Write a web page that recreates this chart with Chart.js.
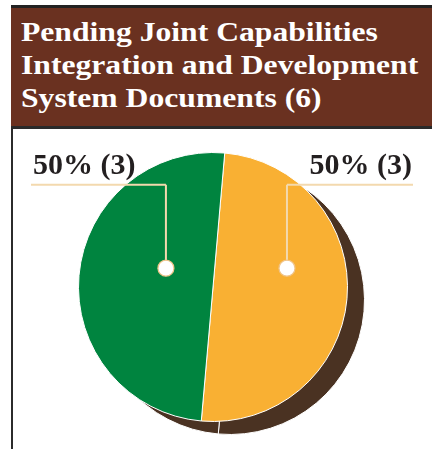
<!DOCTYPE html>
<html lang="en">
<head>
<meta charset="UTF-8">
<title>Pending JCIDS Documents</title>
<script src="https://cdn.jsdelivr.net/npm/chart.js"></script>
<style>
    html, body {
        margin: 0;
        padding: 0;
        background: #fff;
        width: 432px;
        height: 449px;
        overflow: hidden;
    }
    .frame {
        position: absolute;
        left: 11px;
        top: 5px;
        width: 2px;
        height: 444px;
        background: #2b2b2b;
    }
    .header {
        position: absolute;
        left: 11px;
        top: 5px;
        width: 411px;
        height: 111px;
        padding: 7px 0 0 10px;
        background: #6a3120;
        border-top: 3px solid #222;
        border-bottom: 3px solid #2a2a2a;
        color: #fff;
        font-family: "Liberation Serif", "Times New Roman", serif;
        font-weight: bold;
        font-size: 28px;
        line-height: 33px;
        box-sizing: content-box;
        z-index: 2;
        white-space: nowrap;
    }
    .header span {
        display: inline-block;
        transform: scaleX(1.13);
        transform-origin: left center;
    }
    #chart {
        position: absolute;
        left: 0;
        top: 0;
    }
</style>
</head>
<body>
<div class="frame"></div>
<div class="header"><span>Pending Joint Capabilities<br>Integration and Development<br>System Documents (6)</span></div>
<canvas id="chart" width="432" height="449"></canvas>

<script>
    // document counts per group
    const labels = ['Group A', 'Group B'];
    const counts = [3, 3];
    const colors = ['#f9b033', '#00843f'];

    const total = counts.reduce((a, b) => a + b, 0);
    const labelText = counts.map(c => `${Math.round(c / total * 100)}% (${c})`);

    // dark offset copy of the pie, drawn underneath
    const shadowPlugin = {
        id: 'pieShadow',
        beforeDatasetsDraw(chart) {
            const ctx = chart.ctx;
            const arcs = chart.getDatasetMeta(0).data;
            ctx.save();
            ctx.translate(17, 13);
            arcs.forEach(arc => {
                ctx.beginPath();
                ctx.moveTo(arc.x, arc.y);
                ctx.arc(arc.x, arc.y, arc.outerRadius, arc.startAngle, arc.endAngle);
                ctx.closePath();
                ctx.fillStyle = '#4a3222';
                ctx.fill();
                ctx.lineWidth = 1;
                ctx.strokeStyle = '#fff';
                ctx.stroke();
            });
            ctx.restore();
        }
    };

    // callout labels with leader lines and dots
    const calloutPlugin = {
        id: 'callouts',
        afterDatasetsDraw(chart) {
            const ctx = chart.ctx;
            const arc = chart.getDatasetMeta(0).data[0];
            const cx = arc.x, cy = arc.y, r = arc.outerRadius;
            const lineY = cy - r * 0.76;
            const dotY = cy - r * 0.14;
            const sides = [
                { dotX: cx + r * 0.55, from: cx + r * 0.55, to: 413, text: labelText[0], align: 'right', tx: 412 },
                { dotX: cx - r * 0.35, from: 31, to: cx - r * 0.35, text: labelText[1], align: 'left', tx: 33 }
            ];
            ctx.save();
            sides.forEach(s => {
                ctx.strokeStyle = '#f3d9ae';
                ctx.lineWidth = 2;
                ctx.beginPath();
                ctx.moveTo(s.from, lineY);
                ctx.lineTo(s.to, lineY);
                ctx.moveTo(s.dotX, lineY);
                ctx.lineTo(s.dotX, dotY);
                ctx.stroke();

                ctx.beginPath();
                ctx.arc(s.dotX, dotY, 8, 0, Math.PI * 2);
                ctx.fillStyle = '#fff';
                ctx.fill();
                ctx.strokeStyle = '#f0c48a';
                ctx.lineWidth = 1.2;
                ctx.stroke();

                ctx.fillStyle = '#231f20';
                ctx.font = 'bold 30px "Liberation Serif", "Times New Roman", serif';
                ctx.textAlign = s.align;
                ctx.textBaseline = 'alphabetic';
                ctx.fillText(s.text, s.tx, lineY - 11);
            });
            ctx.restore();
        }
    };

    new Chart(document.getElementById('chart'), {
        type: 'pie',
        data: {
            labels: labels,
            datasets: [{
                data: counts,
                backgroundColor: colors,
                borderColor: '#fff',
                borderWidth: 1
            }]
        },
        options: {
            responsive: false,
            animation: false,
            rotation: 5,
            layout: {
                padding: { left: 78, right: 84, top: 150, bottom: 25 }
            },
            plugins: {
                legend: { display: false },
                tooltip: { enabled: false }
            }
        },
        plugins: [shadowPlugin, calloutPlugin]
    });
</script>
</body>
</html>
